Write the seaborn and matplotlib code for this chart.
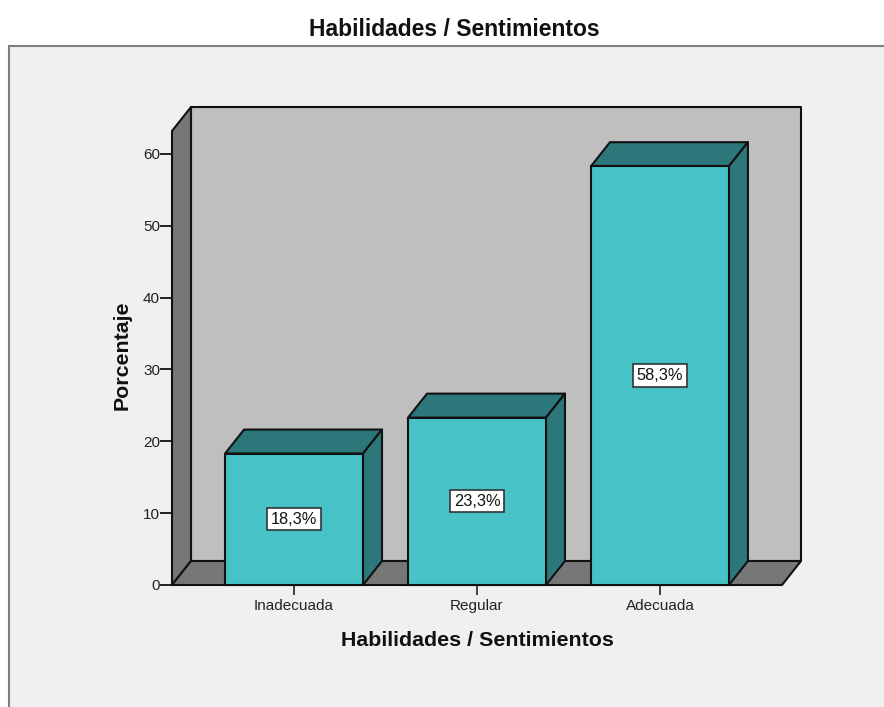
import matplotlib
matplotlib.use("Agg")
import matplotlib.pyplot as plt
from matplotlib.patches import Polygon, Rectangle
import pandas as pd
import seaborn as sns

categories = ["Inadecuada", "Regular", "Adecuada"]
percentages = [18.3, 23.3, 58.3]
y_ticks = [0, 10, 20, 30, 40, 50, 60]
axis_title = "Habilidades / Sentimientos"
y_title = "Porcentaje"

PAGE = "#F0F0F0"
FRAME = "#7F7F7F"
WALL = "#BFBFBF"
SHADE = "#777777"
FRONT = "#47C3C8"
DARK_FACE = "#2C7779"
INK = "#111111"
EDGE_W = 1.5

sns.set_theme(style="white")
plt.rcParams["font.family"] = ["Liberation Sans", "DejaVu Sans"]

W, H = 884, 707
fig = plt.figure(figsize=(W / 100, H / 100), dpi=100, facecolor="white")

# Panel behind the chart; it runs off the right and bottom edges
fig.add_artist(Rectangle((9 / W, -0.01), 1.0, (H - 46) / H + 0.01,
                         transform=fig.transFigure, facecolor=PAGE,
                         edgecolor=FRAME, linewidth=1.5, zorder=-1))

ax = fig.add_axes([172 / W, (H - 585) / H, 610 / W, 454 / H])
ax.patch.set_visible(False)

df = pd.DataFrame({"categoria": categories, "porcentaje": percentages})
sns.barplot(data=df, x="categoria", y="porcentaje", ax=ax, color=FRONT,
            saturation=1, width=0.754, edgecolor=INK, linewidth=EDGE_W,
            zorder=4)

x0, x1 = -0.667, 2.667
y0, y1 = 0, 63.2
ax.set_xlim(x0, x1)
ax.set_ylim(y0, y1)

# Oblique depth of the box, in data units
dx, dy = 0.1038, 3.34


def face(points, color, z):
    ax.add_patch(Polygon(points, closed=True, facecolor=color, edgecolor=INK,
                         linewidth=EDGE_W, joinstyle="round", clip_on=False,
                         zorder=z))


# Back wall, side wall and floor of the chart box
face([(x0 + dx, dy), (x1 + dx, dy), (x1 + dx, y1 + dy), (x0 + dx, y1 + dy)], WALL, 1)
face([(x0, y0), (x0 + dx, dy), (x0 + dx, y1 + dy), (x0, y1)], SHADE, 1.1)
face([(x0, y0), (x1, y0), (x1 + dx, dy), (x0 + dx, dy)], SHADE, 1.1)

# Top and side faces of each bar, taken from the drawn bars
for bar, value in zip(list(ax.patches)[:len(categories)], percentages):
    bar.set_clip_on(False)
    left, right = bar.get_x(), bar.get_x() + bar.get_width()
    face([(left, value), (right, value), (right + dx, value + dy), (left + dx, value + dy)],
         DARK_FACE, 3)
    face([(right, 0), (right + dx, dy), (right + dx, value + dy), (right, value)],
         DARK_FACE, 3)
    ax.text((left + right) / 2, value / 2, f"{value:.1f}%".replace(".", ","),
            ha="center", va="center", fontsize=11.8, color=INK, zorder=6,
            bbox=dict(boxstyle="square,pad=0.22", facecolor="white",
                      edgecolor="#333333", linewidth=1.2))

sns.despine(ax=ax, left=True, bottom=True, top=True, right=True)

ax.set_yticks(y_ticks)
ax.tick_params(axis="y", left=True, length=8.6, width=1.3, color=INK, pad=0,
               labelsize=11, labelcolor="#222222")
ax.tick_params(axis="x", bottom=True, length=7.2, width=1.3, color="#333333", pad=3,
               labelsize=11, labelcolor="#222222")

ax.set_xlabel(axis_title, fontsize=15.4, fontweight="bold", color=INK)
ax.set_ylabel(y_title, fontsize=15.4, fontweight="bold", color=INK)
ax.xaxis.set_label_coords(0.5, -56 / 454, transform=ax.transAxes)
ax.yaxis.set_label_coords(-50 / 610, 0.505, transform=ax.transAxes)
ax.xaxis.label.set_verticalalignment("center")
ax.yaxis.label.set_verticalalignment("center")

fig.suptitle(axis_title, x=454 / W, y=1 - 29.5 / H, ha="center", va="center",
             fontsize=16.5, fontweight="bold", color=INK)

fig.savefig("out.png", dpi=100, facecolor="white")
